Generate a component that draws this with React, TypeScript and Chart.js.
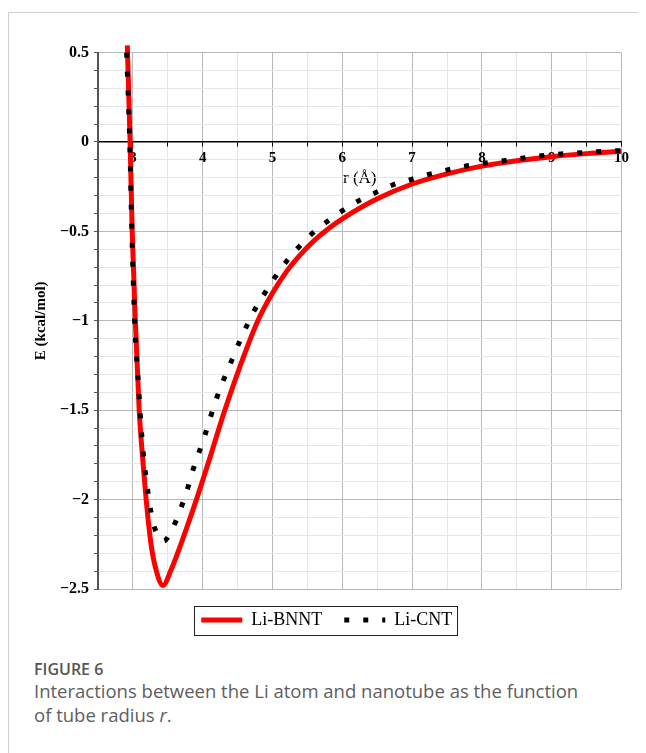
import React, { useEffect, useRef } from 'react';
import { Chart, registerables } from 'chart.js';

Chart.register(...registerables);

// Li-BNNT (solid red)
const bnntR = [2.92, 2.96, 2.99, 3.035, 3.09, 3.14, 3.19, 3.26, 3.33, 3.43, 3.55, 3.65, 3.76, 3.91, 4.1, 4.3, 4.53, 4.79, 5.0, 5.2, 5.4, 5.6, 5.8, 6.0, 6.5, 7.0, 7.5, 8.0, 8.5, 9.0, 9.5, 10.0];
const bnntE = [0.54, 0, -0.5, -1.0, -1.5, -1.77, -2.0, -2.25, -2.39, -2.48, -2.39, -2.29, -2.17, -2.0, -1.77, -1.52, -1.26, -1.0, -0.845, -0.725, -0.63, -0.55, -0.485, -0.43, -0.318, -0.235, -0.178, -0.135, -0.105, -0.082, -0.065, -0.052];

// Li-CNT (dotted black)
const cntR = [2.91, 2.955, 2.985, 3.025, 3.044, 3.082, 3.116, 3.164, 3.197, 3.235, 3.283, 3.389, 3.44, 3.57, 3.676, 3.77, 3.848, 3.934, 4.024, 4.106, 4.19, 4.287, 4.393, 4.5, 4.61, 4.727, 4.871, 5.019, 5.182, 5.354, 5.555, 5.76, 5.986, 6.224, 6.473, 6.726, 6.99, 7.25, 7.52, 7.79, 8.056, 8.34, 8.625, 8.89, 9.165, 9.44, 9.72, 10.0];
const cntE = [0.5, 0, -0.5, -1.0, -1.146, -1.37, -1.584, -1.8, -1.904, -2.01, -2.12, -2.217, -2.232, -2.16, -2.06, -1.956, -1.85, -1.75, -1.65, -1.546, -1.444, -1.342, -1.243, -1.142, -1.046, -0.951, -0.857, -0.766, -0.677, -0.597, -0.517, -0.451, -0.388, -0.331, -0.284, -0.239, -0.209, -0.18, -0.155, -0.133, -0.118, -0.103, -0.088, -0.075, -0.066, -0.06, -0.053, -0.048];

const seriesLabels = ['Li-BNNT', 'Li-CNT'];
const xLabelValues = [3, 4, 5, 6, 7, 8, 9, 10];
const xLabelTexts = ['3', '4', '5', '6', '7', '8', '9', '10'];
const yLabelValues = [0.5, 0, -0.5, -1, -1.5, -2, -2.5];
const yLabelTexts = ['0.5', '0', '\u22120.5', '\u22121', '\u22121.5', '\u22122', '\u22122.5'];
const xTitle = 'r (\u00C5)';
const yTitle = 'E (kcal/mol)';

const SERIF = "'Liberation Serif', 'Times New Roman', serif";
const near = (a: number, b: number) => Math.abs(a - b) < 1e-6;
const isMajorY = (v: number) => near(v * 2, Math.round(v * 2));
const isMajorX = (v: number) => near(v, Math.round(v));

const legendFrame = {
  id: 'legendFrame',
  afterDraw(chart: any) {
    const lg = chart.legend;
    if (!lg || !lg.legendHitBoxes || !lg.legendHitBoxes.length) return;
    const hb = lg.legendHitBoxes;
    const left = Math.round(hb[0].left - 7);
    const last = hb[hb.length - 1];
    const right = Math.round(last.left + last.width + 5);
    const cy = hb[0].top + hb[0].height / 2;
    const top = Math.round(cy - 14.5);
    const ctx = chart.ctx;
    ctx.save();
    ctx.strokeStyle = '#222';
    ctx.lineWidth = 1;
    ctx.setLineDash([]);
    ctx.strokeRect(left + 0.5, top + 0.5, right - left, 29);
    ctx.restore();
  },
};

export default function App() {
  const ref = useRef<HTMLCanvasElement | null>(null);

  useEffect(() => {
    if (!ref.current) return;
    const chart = new Chart(ref.current, {
      type: 'line',
      data: {
        datasets: [
          {
            label: seriesLabels[0],
            data: bnntR.map((r, i) => ({ x: r, y: bnntE[i] })),
            borderColor: '#ff0000',
            backgroundColor: '#ff0000',
            borderWidth: 5,
            pointRadius: 0,
            cubicInterpolationMode: 'monotone',
            fill: false,
            clip: 10,
            order: 1,
          },
          {
            label: seriesLabels[1],
            data: cntR.map((r, i) => ({ x: r, y: cntE[i] })),
            borderColor: '#000000',
            backgroundColor: '#000000',
            borderWidth: 5,
            borderDash: [5, 14],
            borderCapStyle: 'butt',
            pointRadius: 0,
            cubicInterpolationMode: 'monotone',
            fill: false,
            clip: 10,
            order: 0,
          },
        ],
      } as any,
      options: {
        responsive: false,
        animation: false,
        devicePixelRatio: 1,
        layout: { padding: { left: 14, right: 16.5, top: 14, bottom: 9 } },
        plugins: {
          tooltip: { enabled: false },
          legend: {
            position: 'bottom',
            labels: {
              usePointStyle: true,
              pointStyle: 'line',
              pointStyleWidth: 41,
              boxWidth: 41,
              padding: 22,
              color: '#000',
              font: { family: SERIF, size: 18 },
              generateLabels: (c: any) =>
                c.data.datasets.map((ds: any, i: number) => ({
                  text: ds.label,
                  datasetIndex: i,
                  strokeStyle: ds.borderColor,
                  fillStyle: ds.borderColor,
                  lineWidth: 5,
                  lineDash: ds.borderDash || [],
                  lineDashOffset: 0,
                  lineCap: 'butt',
                  pointStyle: 'line',
                  hidden: false,
                  fontColor: '#000',
                })),
            },
          },
        },
        scales: {
          x: {
            type: 'linear',
            min: 2.5,
            max: 10,
            position: { y: 0 } as any,
            afterBuildTicks: (s: any) => {
              const t = [];
              for (let k = 5; k <= 20; k++) t.push({ value: k / 2 });
              s.ticks = t;
            },
            afterFit: (s: any) => { s.height = 50; },
            ticks: {
              autoSkip: false,
              maxRotation: 0,
              padding: 3,
              color: '#000',
              font: { family: SERIF, size: 15, weight: 'bold' },
              callback: (v: any) => {
                const i = xLabelValues.findIndex((u) => near(u, Number(v)));
                return i >= 0 ? xLabelTexts[i] : '';
              },
            },
            grid: {
              color: (c: any) => (c.tick && isMajorX(c.tick.value) ? '#b8b8b8' : '#e6e6e6'),
              tickColor: '#000',
              tickLength: 4,
              lineWidth: 1,
            },
            border: { color: '#000', width: 1.5 },
            title: {
              display: true,
              text: xTitle,
              color: '#000',
              font: { family: SERIF, size: 17 },
              padding: { top: 0, bottom: 3 },
            },
          },
          y: {
            type: 'linear',
            min: -2.5,
            max: 0.5,
            afterBuildTicks: (s: any) => {
              const t = [];
              for (let k = -25; k <= 5; k++) t.push({ value: k / 10 });
              s.ticks = t;
            },
            afterFit: (s: any) => { s.width = 66; },
            ticks: {
              autoSkip: false,
              padding: 5,
              color: '#000',
              font: { family: SERIF, size: 16, weight: 'bold' },
              callback: (v: any) => {
                const i = yLabelValues.findIndex((u) => near(u, Number(v)));
                return i >= 0 ? yLabelTexts[i] : '';
              },
            },
            grid: {
              color: (c: any) => (c.tick && isMajorY(c.tick.value) ? '#b8b8b8' : '#e6e6e6'),
              tickColor: '#555',
              tickLength: 4,
              lineWidth: 1,
            },
            border: { color: '#555', width: 2 },
            title: {
              display: true,
              text: yTitle,
              color: '#000',
              font: { family: SERIF, size: 15, weight: 'bold' },
              padding: { top: 0, bottom: 0 },
            },
          },
        },
      } as any,
      plugins: [legendFrame],
    });
    return () => chart.destroy();
  }, []);

  return (
    <div style={{ position: 'relative', width: 638, height: 745 }}>
      <div
        style={{
          position: 'absolute',
          left: 0,
          top: 4,
          width: 637,
          height: 740,
          borderTop: '1px solid #cfcfcf',
          borderLeft: '1px solid #cfcfcf',
        }}
      />
      <canvas
        ref={ref}
        width={620}
        height={610}
        style={{ position: 'absolute', left: 10, top: 30, width: 620, height: 610 }}
      />
      <div
        style={{
          position: 'absolute',
          left: 26,
          top: 649,
          fontFamily: "'Open Sans', sans-serif",
          fontSize: 16,
          fontWeight: 600,
          lineHeight: '24px',
          color: '#555',
        }}
      >
        FIGURE 6
      </div>
      <div
        style={{
          position: 'absolute',
          left: 26,
          top: 671,
          width: 610,
          fontFamily: "'Open Sans', sans-serif",
          fontSize: 18.5,
          lineHeight: '24px',
          color: '#5e5e5e',
        }}
      >
        Interactions between the Li atom and nanotube as the function
        <br />
        of tube radius <i>r</i>.
      </div>
    </div>
  );
}
